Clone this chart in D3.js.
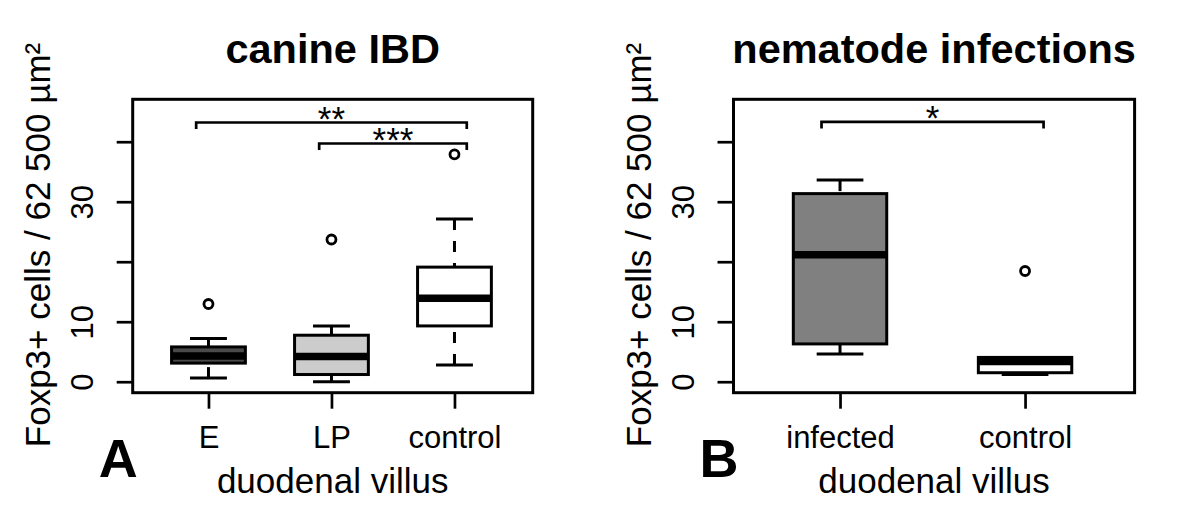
<!DOCTYPE html>
<html>
<head>
<meta charset="utf-8">
<script src="https://cdn.jsdelivr.net/npm/d3@7"></script>
<style>
  body { margin: 0; background: #fff; }
  svg { display: block; }
</style>
</head>
<body>
<div id="chart"></div>
<script>

// panel A : canine IBD
var catA = ["E", "LP", "control"];
var loA  = [0.6, 0.0, 2.8];
var q1A  = [3.1, 1.2, 9.3];
var medA = [4.3, 4.2, 13.9];
var q3A  = [5.8, 7.75, 19.1];
var hiA  = [7.2, 9.3, 27.1];
var outA = [[12.95], [23.7], [37.9]];
var sigLabelA = ["**", "***"];
var sigFromA  = [1, 2];
var sigToA    = [3, 3];
var sigYA     = [43.2, 39.7];

// panel B : nematode infections
var catB = ["infected", "control"];
var loB  = [4.6, 1.2];
var q1B  = [6.3, 1.5];
var medB = [21.15, 3.35];
var q3B  = [31.35, 4.05];
var hiB  = [33.6, 4.05];
var outB = [[], [18.45]];
var sigLabelB = ["*"];
var sigFromB  = [1];
var sigToB    = [2];
var sigYB     = [43.3];

var yTicks = [0, 10, 20, 30, 40];
var yTickLabels = ["0", "10", "", "30", ""];

var FONT = "'Liberation Sans', Arial, Helvetica, sans-serif";
var plotTop = 99.3, plotBottom = 392.7;
var LW = 3;

var svg = d3.select("#chart")
    .append("svg")
    .attr("width", 1200)
    .attr("height", 526)
    .style("font-family", FONT);

drawPanel({
    left: 132.7, right: 532.7, xDomain: [0.384, 3.636], half: 0.3,
    cat: catA, lo: loA, q1: q1A, med: medA, q3: q3A, hi: hiA, out: outA,
    fills: ["#4a4a4a", "#cccccc", "#ffffff"],
    sigLabel: sigLabelA, sigFrom: sigFromA, sigTo: sigToA, sigY: sigYA,
    title: "canine IBD", letter: "A"
});

drawPanel({
    left: 733.5, right: 1134.6, xDomain: [0.4243, 2.592], half: 0.2524,
    cat: catB, lo: loB, q1: q1B, med: medB, q3: q3B, hi: hiB, out: outB,
    fills: ["#808080", "#ffffff"],
    sigLabel: sigLabelB, sigFrom: sigFromB, sigTo: sigToB, sigY: sigYB,
    title: "nematode infections", letter: "B"
});


function drawPanel(p) {

    var x = d3.scaleLinear().domain(p.xDomain).range([p.left, p.right]);
    var y = d3.scaleLinear().domain([-1.83, 47.07]).range([plotBottom, plotTop]);

    var g = svg.append("g");
    var idx = d3.range(p.cat.length);
    var hw = p.half;

    // whiskers (dashed, drawn from the whisker end to the hinge)
    g.selectAll(".wlo").data(idx).enter().append("line")
        .attr("x1", function(i) { return x(i + 1); })
        .attr("x2", function(i) { return x(i + 1); })
        .attr("y1", function(i) { return y(p.lo[i]); })
        .attr("y2", function(i) { return y(p.q1[i]); })
        .attr("stroke", "#000").attr("stroke-width", LW)
        .attr("stroke-dasharray", "11,11");

    g.selectAll(".whi").data(idx).enter().append("line")
        .attr("x1", function(i) { return x(i + 1); })
        .attr("x2", function(i) { return x(i + 1); })
        .attr("y1", function(i) { return y(p.hi[i]); })
        .attr("y2", function(i) { return y(p.q3[i]); })
        .attr("stroke", "#000").attr("stroke-width", LW)
        .attr("stroke-dasharray", "11,11");

    // caps
    [p.lo, p.hi].forEach(function(arr) {
        g.append("g").selectAll("line").data(idx).enter().append("line")
            .attr("x1", function(i) { return x(i + 1 - hw / 2); })
            .attr("x2", function(i) { return x(i + 1 + hw / 2); })
            .attr("y1", function(i) { return y(arr[i]); })
            .attr("y2", function(i) { return y(arr[i]); })
            .attr("stroke", "#000").attr("stroke-width", LW);
    });

    // boxes
    g.selectAll(".box").data(idx).enter().append("rect")
        .attr("x", function(i) { return x(i + 1 - hw); })
        .attr("width", function(i) { return x(i + 1 + hw) - x(i + 1 - hw); })
        .attr("y", function(i) { return y(p.q3[i]); })
        .attr("height", function(i) { return y(p.q1[i]) - y(p.q3[i]); })
        .attr("fill", function(i) { return p.fills[i]; })
        .attr("stroke", "#000").attr("stroke-width", LW);

    // medians
    g.selectAll(".med").data(idx).enter().append("line")
        .attr("x1", function(i) { return x(i + 1 - hw); })
        .attr("x2", function(i) { return x(i + 1 + hw); })
        .attr("y1", function(i) { return y(p.med[i]); })
        .attr("y2", function(i) { return y(p.med[i]); })
        .attr("stroke", "#000").attr("stroke-width", 7.5);

    // outliers
    var pts = [];
    idx.forEach(function(i) {
        p.out[i].forEach(function(v) { pts.push({i: i, v: v}); });
    });
    g.selectAll(".out").data(pts).enter().append("circle")
        .attr("cx", function(d) { return x(d.i + 1); })
        .attr("cy", function(d) { return y(d.v); })
        .attr("r", 4.5)
        .attr("fill", "none")
        .attr("stroke", "#000").attr("stroke-width", 2.8);

    // frame
    g.append("rect")
        .attr("x", p.left).attr("y", plotTop)
        .attr("width", p.right - p.left).attr("height", plotBottom - plotTop)
        .attr("fill", "none").attr("stroke", "#000").attr("stroke-width", LW);

    // y axis
    var ya = g.append("g")
        .attr("transform", "translate(" + p.left + ",0)")
        .call(d3.axisLeft(y).tickValues(yTicks).tickSize(16)
              .tickFormat(function(d, i) { return yTickLabels[i]; }));
    ya.select(".domain").remove();
    ya.selectAll("line").attr("stroke", "#000").attr("stroke-width", 2.7);
    ya.selectAll("text")
        .attr("x", 0).attr("dy", 0)
        .attr("transform", "translate(-40,0) rotate(-90)")
        .attr("text-anchor", "middle")
        .attr("font-family", FONT).attr("font-size", 31).attr("fill", "#000");

    // x axis
    var xa = g.append("g")
        .attr("transform", "translate(0," + plotBottom + ")")
        .call(d3.axisBottom(x).tickValues(idx.map(function(i) { return i + 1; }))
              .tickSize(16)
              .tickFormat(function(d) { return p.cat[d - 1]; }));
    xa.select(".domain").remove();
    xa.selectAll("line").attr("stroke", "#000").attr("stroke-width", 2.7);
    xa.selectAll("text")
        .attr("y", 55.6).attr("dy", 0)
        .attr("font-family", FONT).attr("font-size", 31).attr("fill", "#000");

    // significance brackets
    var sIdx = d3.range(p.sigLabel.length);
    g.selectAll(".sig").data(sIdx).enter().append("path")
        .attr("d", function(k) {
            var y0 = y(p.sigY[k]);
            return "M" + x(p.sigFrom[k] - 0.1) + "," + (y0 + 6.5) +
                   "V" + y0 + "H" + x(p.sigTo[k] + 0.1) + "V" + (y0 + 6.5);
        })
        .attr("fill", "none").attr("stroke", "#000").attr("stroke-width", 2.7);

    g.selectAll(".star").data(sIdx).enter().append("text")
        .attr("x", function(k) { return x((p.sigFrom[k] + p.sigTo[k]) / 2); })
        .attr("y", function(k) { return y(p.sigY[k]) + 8.5; })
        .attr("text-anchor", "middle")
        .attr("font-size", 35)
        .text(function(k) { return p.sigLabel[k]; });

    // titles and labels
    var cx = (p.left + p.right) / 2;
    g.append("text")
        .attr("x", cx).attr("y", 63.3)
        .attr("text-anchor", "middle")
        .attr("font-size", 41.5).attr("font-weight", "bold")
        .text(p.title);

    g.append("text")
        .attr("x", cx).attr("y", 493.3)
        .attr("text-anchor", "middle")
        .attr("font-size", 35)
        .text("duodenal villus");

    g.append("text")
        .attr("transform", "translate(" + (p.left - 83) + ",245) rotate(-90)")
        .attr("text-anchor", "middle")
        .attr("font-size", 35)
        .text("Foxp3+ cells / 62 500 \u00b5m\u00b2");

    g.append("text")
        .attr("x", p.left - 34).attr("y", 477)
        .attr("font-size", 54).attr("font-weight", "bold")
        .text(p.letter);
}

</script>
</body>
</html>
